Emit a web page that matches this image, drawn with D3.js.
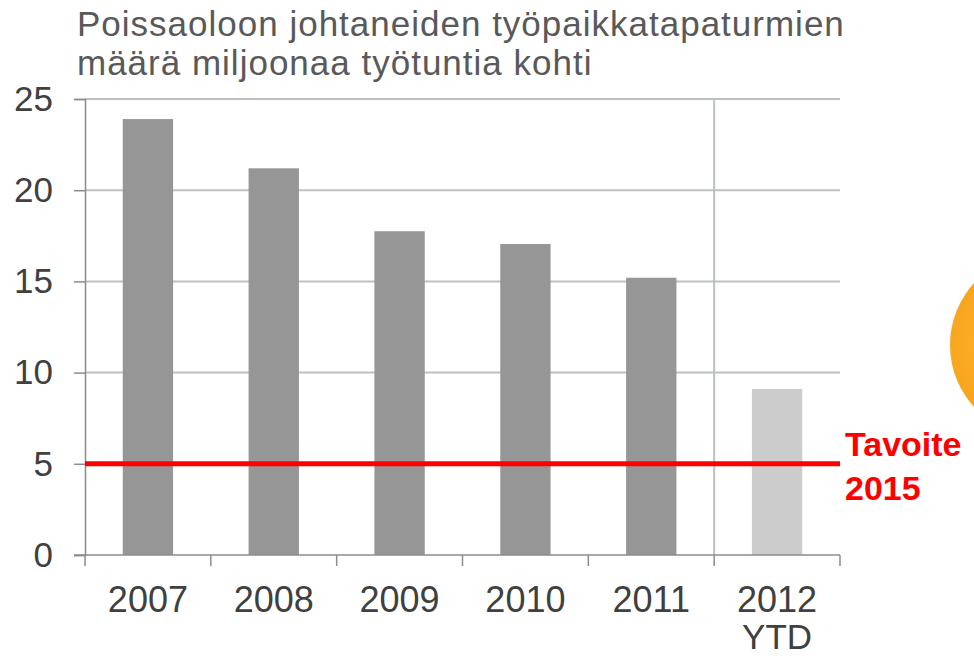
<!DOCTYPE html>
<html>
<head>
<meta charset="utf-8">
<script src="https://cdn.jsdelivr.net/npm/d3@7"></script>
<style>
  body { margin: 0; background: #fff; }
  svg { display: block; font-family: Arial, "Liberation Sans", sans-serif; }
</style>
</head>
<body>
<svg id="chart" width="974" height="656"></svg>
<script>
const years = ["2007", "2008", "2009", "2010", "2011", "2012"];
const subLabels = ["", "", "", "", "", "YTD"];
const values = [23.9, 21.2, 17.75, 17.05, 15.2, 9.1];
const yTicks = [0, 5, 10, 15, 20, 25];
const target = 5;
const targetLabel = ["Tavoite", "2015"];
const titleLines = ["Poissaoloon johtaneiden työpaikkatapaturmien", "määrä miljoonaa työtuntia kohti"];

const svg = d3.select("#chart");
const plotLeft = 85, plotRight = 840, plotTop = 99, plotBottom = 555;

const x = d3.scaleBand()
  .domain(years)
  .range([plotLeft, plotRight])
  .paddingInner(0.6)
  .paddingOuter(0.3);

const y = d3.scaleLinear()
  .domain([0, 25])
  .range([plotBottom, plotTop]);

// decorative orange disc at right edge
const grad = svg.append("defs").append("radialGradient")
  .attr("id", "orb").attr("cx", "35%").attr("cy", "50%").attr("r", "65%");
grad.append("stop").attr("offset", "0%").attr("stop-color", "#ffb52e");
grad.append("stop").attr("offset", "100%").attr("stop-color", "#f39a12");
svg.append("circle")
  .attr("cx", 1042).attr("cy", 345).attr("r", 92)
  .attr("fill", "url(#orb)");

// title
svg.append("g")
  .selectAll("text")
  .data(titleLines)
  .join("text")
    .attr("x", 77)
    .attr("y", (d, i) => 36 + i * 39)
    .attr("font-size", 35)
    .attr("letter-spacing", 1)
    .attr("fill", "#595959")
    .text(d => d);

// horizontal gridlines
svg.append("g")
  .selectAll("line")
  .data(yTicks.filter(d => d > 0))
  .join("line")
    .attr("x1", plotLeft).attr("x2", plotRight)
    .attr("y1", d => y(d)).attr("y2", d => y(d))
    .attr("stroke", "#bcc2bf")
    .attr("stroke-width", 2);

// vertical separator before last category
const sepX = x("2012") - x.step() * x.paddingInner() / 2;
svg.append("line")
  .attr("x1", sepX).attr("x2", sepX)
  .attr("y1", plotTop).attr("y2", plotBottom)
  .attr("stroke", "#bcc2bf")
  .attr("stroke-width", 2);

// y axis
const yAxis = svg.append("g")
  .attr("transform", `translate(${plotLeft},0)`)
  .call(d3.axisLeft(y).tickValues(yTicks).tickSize(11).tickPadding(21));
yAxis.select(".domain").attr("stroke", "#8c8c8c").attr("stroke-width", 1.5);
yAxis.selectAll(".tick line").attr("stroke", "#8c8c8c").attr("stroke-width", 1.5);
yAxis.selectAll(".tick text")
  .attr("font-size", 35)
  .attr("fill", "#404040")
  .attr("font-family", "Arial, 'Liberation Sans', sans-serif");

// bars
svg.append("g")
  .selectAll("rect")
  .data(years)
  .join("rect")
    .attr("x", d => x(d))
    .attr("width", x.bandwidth())
    .attr("y", (d, i) => y(values[i]))
    .attr("height", (d, i) => y(0) - y(values[i]))
    .attr("fill", d => d === "2012" ? "#cccccc" : "#969696");

// x axis
const xAxis = svg.append("g")
  .attr("transform", `translate(0,${plotBottom})`);
xAxis.append("line")
  .attr("x1", plotLeft - 11).attr("x2", plotRight)
  .attr("stroke", "#8c8c8c").attr("stroke-width", 1.5);
const edges = years.map(d => x(d) - x.step() * x.paddingInner() / 2).concat([plotRight]);
edges[0] = plotLeft;
xAxis.selectAll("line.tk")
  .data(edges)
  .join("line")
    .attr("class", "tk")
    .attr("x1", d => d).attr("x2", d => d)
    .attr("y1", 0).attr("y2", 11)
    .attr("stroke", "#8c8c8c").attr("stroke-width", 1.5);
xAxis.selectAll("text.lab")
  .data(years)
  .join("text")
    .attr("class", "lab")
    .attr("x", d => x(d) + x.bandwidth() / 2)
    .attr("y", 57)
    .attr("text-anchor", "middle")
    .attr("font-size", 36)
    .attr("fill", "#404040")
    .text(d => d);
xAxis.selectAll("text.sub")
  .data(years)
  .join("text")
    .attr("class", "sub")
    .attr("x", d => x(d) + x.bandwidth() / 2)
    .attr("y", 94)
    .attr("text-anchor", "middle")
    .attr("font-size", 35)
    .attr("fill", "#404040")
    .text((d, i) => subLabels[i]);

// target line
svg.append("line")
  .attr("x1", plotLeft).attr("x2", plotRight)
  .attr("y1", y(target)).attr("y2", y(target))
  .attr("stroke", "#ff0000")
  .attr("stroke-width", 5);

svg.append("g")
  .selectAll("text")
  .data(targetLabel)
  .join("text")
    .attr("x", 845)
    .attr("y", (d, i) => 456 + i * 44)
    .attr("font-size", 34)
    .attr("font-weight", "bold")
    .attr("fill", "#ff0000")
    .text(d => d);
</script>
</body>
</html>
